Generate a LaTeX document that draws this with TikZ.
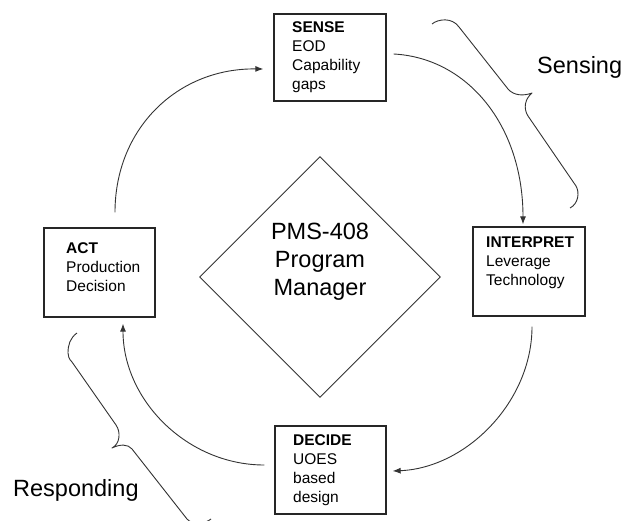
\documentclass[tikz,border=0pt]{standalone}
\usepackage{fontspec}
\setmainfont{Liberation Sans}
\usetikzlibrary{shapes.geometric,arrows.meta,calc}

\begin{document}
\begin{tikzpicture}[x=1pt,y=-1pt,
  stagebox/.style={draw=black!85,line width=1.3pt,inner sep=0pt},
  stagetext/.style={anchor=base west,align=left,inner sep=0pt,
    font=\fontsize{15.5}{19}\selectfont},
  bigtext/.style={inner sep=0pt,font=\fontsize{23.5}{28}\selectfont},
  flow/.style={draw=black!80,line width=0.9pt,-{Latex[length=8pt,width=6pt]}},
  bracket/.style={draw=black!80,line width=0.9pt,line join=round}]

\useasboundingbox (0,0) rectangle (623,521);

% the four stages of the cycle
\node[stagebox,minimum width=112pt,minimum height=87pt] (sense) at (330,57.5) {};
\node[stagebox,minimum width=112pt,minimum height=89pt] (interp) at (529,271.5) {};
\node[stagebox,minimum width=111pt,minimum height=89pt] (act) at (99.5,272.5) {};
\node[stagebox,minimum width=111pt,minimum height=88pt] (decide) at (330.5,470) {};

% stage texts, placed by the baseline of their last line
\node[stagetext] (sensetxt) at (292,90) {\textbf{SENSE}\\EOD\\Capability\\gaps};
\node[stagetext] (interptxt) at (486,285) {\textbf{INTERPRET}\\Leverage\\Technology};
\node[stagetext] (acttxt) at (66,291) {\textbf{ACT}\\Production\\Decision};
\node[stagetext] (decidetxt) at (293,502) {\textbf{DECIDE}\\UOES\\based\\design};

% program manager in the middle
\node[diamond,draw=black!80,line width=0.9pt,minimum width=241pt,
  minimum height=241pt,inner sep=0pt] (pm) at (320,277) {};
\node[bigtext,anchor=base,align=center] (pmtxt) at (320,295)
  {PMS-408\\Program\\Manager};

% cycle arrows
\draw[flow] ($(sense.east)+(7,-3.5)$) .. controls (468,58) and (523,126) ..
  ($(interp.north)+(-6,-2)$);
\draw[flow] ($(interp.south)+(3,10)$) .. controls (532,402) and (466,468) ..
  ($(decide.east)+(6,1)$);
\draw[flow] ($(decide.west)+(-10,-5)$) .. controls (187,465) and (123,400) ..
  ($(act.south)+(23.5,6)$);
\draw[flow] ($(act.north)+(15.5,-15)$) .. controls (115,128) and (178,68) ..
  ($(sense.west)+(-10,11.5)$);

% brace grouping SENSE and INTERPRET
\draw[bracket] (432,24) .. controls (438,19) and (452,17) .. (459,27)
  -- (508,89) .. controls (514,96) and (524,96) .. (532,93)
  .. controls (525,99) and (523,108) .. (528,116)
  -- (576,186) .. controls (580,193) and (578,204) .. (570,208);

% brace grouping DECIDE and ACT
\draw[bracket] (77,333) .. controls (70,338) and (68,345) .. (68,353)
  .. controls (68,356) and (69,359) .. (72,362)
  -- (116,425) .. controls (121,432) and (120,444) .. (112,448)
  .. controls (120,444) and (128,444) .. (132,449)
  -- (187,519) .. controls (192,525) and (205,524) .. (211,519);

\node[bigtext,anchor=base west] (sensing) at (537,74) {Sensing};
\node[bigtext,anchor=base west] (responding) at (13,496) {Responding};
\end{tikzpicture}
\end{document}
